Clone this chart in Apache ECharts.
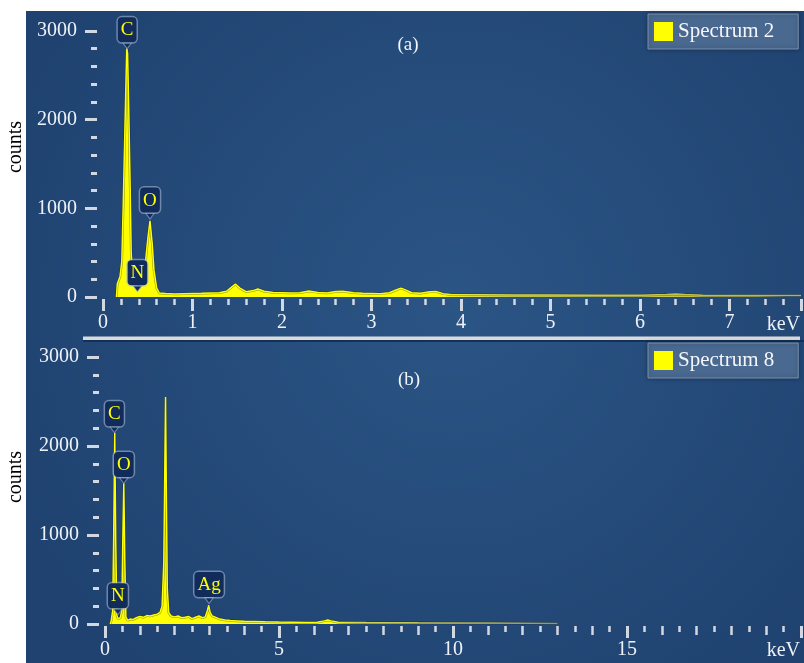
<!DOCTYPE html>
<html><head><meta charset="utf-8">
<script src="https://cdn.jsdelivr.net/npm/echarts@6/dist/echarts.min.js"></script>
<style>html,body{margin:0;padding:0;background:#fff}#c{width:804px;height:663px}</style>
</head><body><div id="c"></div>
<script>
// ---------- data ----------
const energyA = [0.15,0.16,0.19,0.21,0.225,0.245,0.265,0.275,0.29,0.305,0.315,0.33,0.35,0.38,0.41,0.44,0.47,0.50,0.525,0.55,0.57,0.60,0.63,0.70,0.80,0.90,1.00,1.10,1.20,1.30,1.38,1.44,1.48,1.53,1.60,1.68,1.73,1.80,1.90,2.00,2.10,2.20,2.30,2.40,2.50,2.60,2.68,2.80,2.90,3.00,3.10,3.20,3.28,3.33,3.38,3.45,3.55,3.65,3.72,3.80,3.90,4.20,4.60,5.00,5.50,6.00,6.30,6.40,6.50,6.70,7.00,7.30,7.80];
const countsA = [0,150,230,400,1000,1900,2800,2750,2000,1150,500,260,160,120,110,160,350,650,860,600,300,100,45,40,35,38,40,42,45,48,65,115,145,100,60,72,90,65,52,48,44,48,68,52,45,62,66,48,42,40,38,48,82,100,80,48,42,60,62,38,26,24,22,22,20,20,28,35,28,20,18,18,18];

const energyB = [0.15,0.18,0.22,0.25,0.28,0.31,0.34,0.37,0.40,0.44,0.48,0.51,0.54,0.57,0.60,0.65,0.72,0.80,0.90,1.00,1.10,1.20,1.30,1.40,1.50,1.58,1.64,1.69,1.72,1.74,1.76,1.79,1.83,1.90,2.00,2.10,2.20,2.30,2.40,2.50,2.60,2.70,2.80,2.88,2.94,2.98,3.02,3.08,3.15,3.20,3.30,3.45,3.60,3.80,4.00,4.30,4.60,5.00,5.40,5.80,6.10,6.30,6.40,6.50,6.70,7.00,7.50,8.00,9.00,10.0,11.0,12.0,13.0];
const countsB = [0,40,150,1000,2150,900,100,60,55,70,150,900,1580,700,80,40,55,50,70,85,75,95,90,100,110,130,200,700,1800,2550,1600,400,130,90,80,90,70,75,85,60,75,90,70,80,150,210,130,90,80,65,55,45,40,35,30,28,25,22,20,18,20,35,45,35,20,18,16,15,13,12,10,8,6];

const peakNamesA = ['C','N','O'];
const peakEnergyA = [0.27,0.385,0.525];
const peakCountsA = [2800,60,880];
const peakNamesB = ['C','N','O','Ag'];
const peakEnergyB = [0.27,0.37,0.54,2.99];
const peakCountsB = [2150,105,1580,230];

const seriesNameA = 'Spectrum 2';
const seriesNameB = 'Spectrum 8';
const yMax = 3000, yStep = 1000;
const xMaxA = 7.8, xMaxB = 20;

// ---------- styling ----------
const serif = '"Liberation Serif","Times New Roman",serif';
const yellow = '#ffff00';
const tickColor = '#d2d8e1';
const labelColor = '#eef2f7';
const boxFill = '#112c5a';
const boxBorder = 'rgba(175,190,215,0.55)';

const pairs = (e, c) => e.map((x, i) => [x, c[i]]);

function fade(stop, mid, end) {
  return new echarts.graphic.LinearGradient(0, 0, 1, 0, [
    {offset: 0, color: yellow}, {offset: stop, color: yellow},
    {offset: Math.min(stop + 0.05, 0.99), color: mid}, {offset: 1, color: end}]);
}

function marks(names, es, cs) {
  return {
    symbol: 'path://M0,0 L10,0 L5,6 Z', symbolSize: [9, 6], symbolOffset: [0, -3],
    symbolKeepAspect: false, silent: true,
    itemStyle: {color: boxFill, borderColor: boxBorder, borderWidth: 1},
    label: {show: true, position: 'top', distance: 0, formatter: '{b}', color: yellow,
      fontFamily: serif, fontSize: 19, lineHeight: 20, backgroundColor: boxFill,
      borderColor: boxBorder, borderWidth: 1.5, borderRadius: 4, padding: [3, 3, 2, 3]},
    data: names.map((n, i) => ({name: n, coord: [es[i], cs[i]]}))
  };
}

function xAx(grid, max, interval, len, width, fmt) {
  return {type: 'value', gridIndex: grid, position: 'bottom', min: 0, max: max, interval: interval, offset: 2,
    axisLine: {show: false, onZero: false}, splitLine: {show: false},
    axisTick: {show: true, length: len, lineStyle: {color: tickColor, width: width}},
    axisLabel: {show: !!fmt, margin: 14, color: labelColor, fontFamily: serif, fontSize: 20, formatter: fmt || ''}};
}
function yAx(grid) {
  return {type: 'value', gridIndex: grid, position: 'left', min: 0, max: yMax, interval: yStep, offset: 6,
    axisLine: {show: false, onZero: false}, splitLine: {show: false},
    axisTick: {show: true, length: 12, lineStyle: {color: tickColor, width: 3}},
    minorTick: {show: true, splitNumber: 5, length: 6, lineStyle: {color: tickColor, width: 3}},
    axisLabel: {margin: 20, color: labelColor, fontFamily: serif, fontSize: 20, formatter: v => String(v)}};
}

function legendOf(name, top) {
  return {data: [name], left: 648, top: top, orient: 'horizontal', icon: 'rect',
    itemWidth: 19, itemHeight: 19, padding: [7, 24, 7, 6],
    backgroundColor: '#4a6990', borderColor: '#7890ae', borderWidth: 1,
    shadowColor: 'rgba(0,0,0,0.35)', shadowBlur: 4,
    selectedMode: false,
    textStyle: {color: '#f4f6f9', fontFamily: serif, fontSize: 21, lineHeight: 20}};
}

const chart = echarts.init(document.getElementById('c'), null, {renderer: 'canvas'});
const txt = (t, x, y, size, color, extra) => Object.assign({type: 'text', x: x, y: y, silent: true,
  style: {text: t, fill: color, font: size + 'px ' + serif, align: 'center', verticalAlign: 'middle'}}, extra || {});
const halo = {color: 'rgba(8,24,58,0.45)', width: 2.5};

chart.setOption({
  animation: false,
  backgroundColor: '#ffffff',
  grid: [
    {left: 103, right: -8, top: 31, height: 266},
    {left: 105, right: 3, top: 357, height: 267}
  ],
  xAxis: [
    xAx(0, xMaxA, 0.2, 6, 2.5),
    xAx(0, xMaxA, 1, 12, 3, v => Number.isInteger(v) ? String(v) : ''),
    xAx(1, xMaxB, 0.5, 6, 2.5),
    xAx(1, xMaxB, 1, 9, 2.5),
    xAx(1, xMaxB, 5, 12, 3, v => (v % 5 === 0 && v < xMaxB) ? String(v) : '')
  ],
  yAxis: [yAx(0), yAx(1)],
  legend: [legendOf(seriesNameA, 14), legendOf(seriesNameB, 343)],
  series: [
    {name: 'haloA', type: 'line', xAxisIndex: 0, yAxisIndex: 0, data: pairs(energyA, countsA),
      symbol: 'none', silent: true, lineStyle: halo},
    {name: seriesNameA, type: 'line', xAxisIndex: 0, yAxisIndex: 0, data: pairs(energyA, countsA),
      symbol: 'none', silent: true, itemStyle: {color: yellow},
      lineStyle: {color: fade(0.47, '#dcdc48', '#b4b44c'), width: 1.5},
      areaStyle: {color: fade(0.47, '#dcdc48', '#b4b44c'), opacity: 1},
      markPoint: marks(peakNamesA, peakEnergyA, peakCountsA)},
    {name: 'haloB', type: 'line', xAxisIndex: 2, yAxisIndex: 1, data: pairs(energyB, countsB),
      symbol: 'none', silent: true, lineStyle: halo},
    {name: seriesNameB, type: 'line', xAxisIndex: 2, yAxisIndex: 1, data: pairs(energyB, countsB),
      symbol: 'none', silent: true, itemStyle: {color: yellow},
      lineStyle: {color: fade(0.5, '#d4d44c', '#8e9a5a'), width: 1.5},
      areaStyle: {color: fade(0.5, '#d4d44c', '#8e9a5a'), opacity: 1},
      markPoint: marks(peakNamesB, peakEnergyB, peakCountsB)}
  ],
  graphic: [
    {type: 'rect', z: -100, silent: true, shape: {x: 26, y: 11, width: 778, height: 652},
      style: {fill: new echarts.graphic.RadialGradient(0.55, 0.45, 0.75, [
        {offset: 0, color: '#2b5585'}, {offset: 1, color: '#1f4270'}])}},
    {type: 'rect', z: -50, silent: true, shape: {x: 83, y: 336.5, width: 717, height: 3.5}, style: {fill: '#d9dadc'}},
    {type: 'rect', z: -50, silent: true, shape: {x: 83, y: 340, width: 721, height: 2}, style: {fill: '#142f58'}},
    txt('(a)', 408, 45, 19, '#f4f6f9'),
    txt('(b)', 409, 380, 19, '#f4f6f9'),
    txt('keV', 800, 325, 20, labelColor, {style: {text: 'keV', fill: labelColor, font: '20px ' + serif, align: 'right', verticalAlign: 'middle'}}),
    txt('keV', 800, 651, 20, labelColor, {style: {text: 'keV', fill: labelColor, font: '20px ' + serif, align: 'right', verticalAlign: 'middle'}}),
    txt('counts', 16, 147, 20, '#000000', {rotation: Math.PI / 2}),
    txt('counts', 16, 477, 20, '#000000', {rotation: Math.PI / 2})
  ]
});
</script>
</body></html>
